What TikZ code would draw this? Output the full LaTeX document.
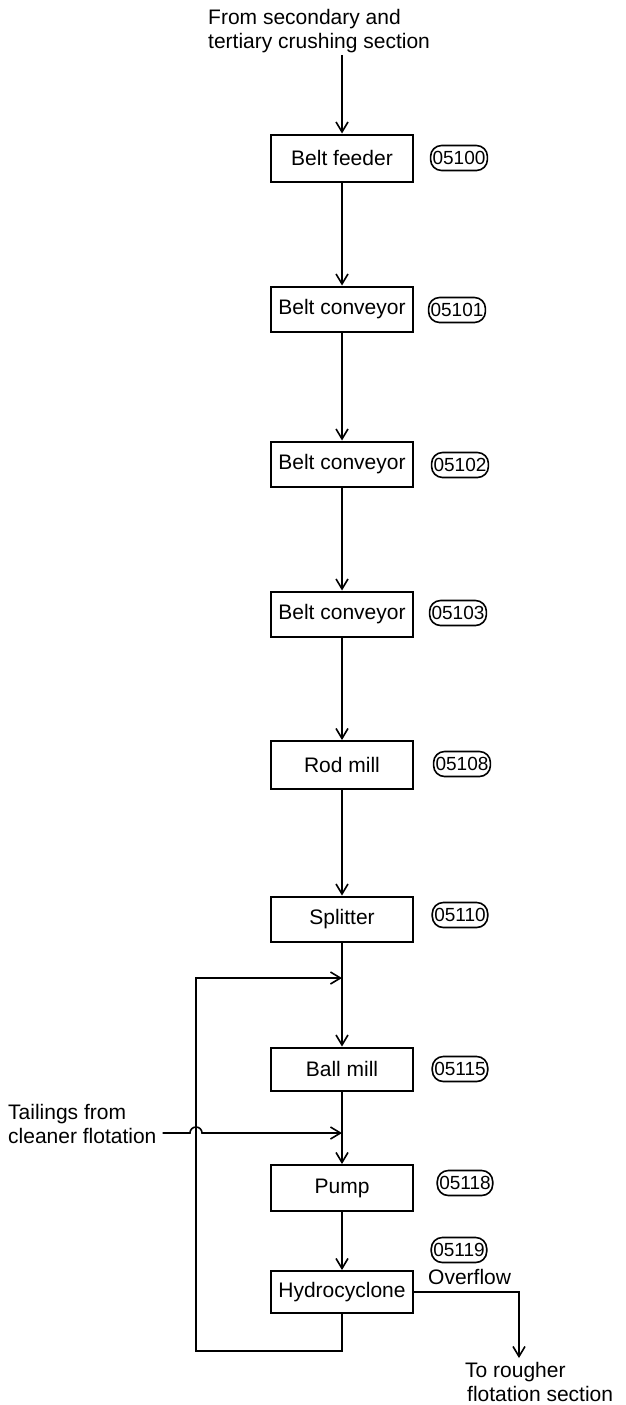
\documentclass[tikz,border=0pt]{standalone}
\usepackage{fontspec}
\setmainfont{Liberation Sans}
\usetikzlibrary{arrows.meta}
\begin{document}
\begin{tikzpicture}[x=1pt,y=-1pt,
  every node/.style={font=\fontsize{21}{24}\selectfont},
  unit/.style={draw, line width=2pt, minimum width=142pt, minimum height=45pt, inner sep=0pt},
  tag/.style={draw, line width=1.6pt, rounded corners=11pt, minimum height=25pt, minimum width=55pt, inner xsep=2pt, inner ysep=0pt, font=\fontsize{19}{21}\selectfont},
  flow/.style={line width=1.6pt, -{Straight Barb[length=10pt,width=12pt,line width=1.6pt]}},
  note/.style={align=left, inner sep=0pt}
]
\useasboundingbox (0,0) rectangle (625,1405);

% text at top
\node[note, anchor=north west] (src) at (208,9) {From secondary and\\tertiary crushing section};

% units
\node[unit, minimum height=47pt] (feeder) at (342,158) {Belt feeder};
\node[unit] (conv1) at (342,309) {Belt conveyor};
\node[unit] (conv2) at (342,464) {Belt conveyor};
\node[unit] (conv3) at (342,614) {Belt conveyor};
\node[unit, minimum height=48pt] (rod) at (342,765) {Rod mill};
\node[unit] (split) at (342,919) {Splitter};
\node[unit, minimum height=43pt] (ball) at (342,1069) {Ball mill};
\node[unit, minimum height=46pt] (pump) at (342,1188) {Pump};
\node[unit, minimum height=42pt] (hydro) at (342,1292) {Hydrocyclone};

% tags
\node[tag] (t100) at (459,158) {05100};
\node[tag] (t101) at (457,310) {05101};
\node[tag] (t102) at (460,465) {05102};
\node[tag] (t103) at (458,613) {05103};
\node[tag] (t108) at (462,764) {05108};
\node[tag] (t110) at (460,915) {05110};
\node[tag] (t115) at (460,1069) {05115};
\node[tag] (t118) at (465,1183) {05118};
\node[tag] (t119) at (459,1250) {05119};

% other texts
\node[inner sep=0pt, anchor=base west] (ovf) at (428,1284) {Overflow};
\node[note, anchor=north west] (rough) at (465,1362) {To rougher\\\hspace*{2pt}flotation section};
\node[note, anchor=north west] (tail) at (8,1104) {Tailings from\\cleaner flotation};

% coordinates
\coordinate (recin) at (342,978);
\coordinate (loopc) at (196,1351);
\coordinate (tin) at (342,1133);
\coordinate (ovend) at (519,1358);

% main flow
\draw[flow] (feeder.north |- 0,55) -- (feeder.north);
\draw[flow] (feeder.south) -- (conv1.north);
\draw[flow] (conv1.south) -- (conv2.north);
\draw[flow] (conv2.south) -- (conv3.north);
\draw[flow] (conv3.south) -- (rod.north);
\draw[flow] (rod.south) -- (split.north);
\draw[flow] (split.south) -- (ball.north);
\draw[flow] (ball.south) -- (pump.north);
\draw[flow] (pump.south) -- (hydro.north);

% recycle of underflow
\draw[flow] (hydro.south) |- (loopc) |- (recin);

% tailings with hop over the recycle line
\draw[flow] ([xshift=6pt]tail.east |- tin) -- (190,1133) arc[start angle=180, end angle=360, radius=6] -- (tin);

% overflow
\draw[flow] (hydro.east) -| (ovend);
\end{tikzpicture}
\end{document}
